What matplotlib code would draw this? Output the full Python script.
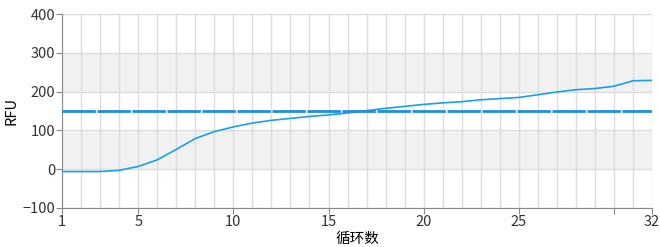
import numpy as np
import matplotlib.pyplot as plt

plt.rcParams['font.family'] = ['Noto Sans CJK SC', 'DejaVu Sans']

cycles = list(range(1, 33))
rfu = [-6, -6, -6, -3, 7, 24, 51, 79, 97, 109, 119, 126, 131, 136, 140, 145,
       151, 157, 162, 167, 171, 174, 179, 182, 185, 192, 199, 205, 208, 214, 228, 229]
threshold = 150
xticks = [1, 5, 10, 15, 20, 25, 30, 32]
xticklabels = ['1', '5', '10', '15', '20', '25', '', '32']
yticks = [-100, 0, 100, 200, 300, 400]

fig = plt.figure(figsize=(6.6, 2.47), dpi=100)
ax = fig.add_axes([0.094, 0.158, 0.894, 0.785])

# alternating grey bands
for lo, hi in [(0, 100), (200, 300)]:
    ax.axhspan(lo, hi, color='#f1f1f1', zorder=0, lw=0)
for c in cycles:
    ax.axvline(c, color='#dddddd', lw=1, zorder=1)
for v in yticks:
    ax.axhline(v, color='#dddddd', lw=1, zorder=1)

ax.plot(cycles, rfu, color='#1aa0e8', lw=1.2, zorder=3)
ax.axhline(threshold, color='#1e8ee0', lw=2, ls=(0, (12, 0.6)), zorder=4)

ax.set_xlim(1, 32)
ax.set_ylim(-100, 400)
ax.set_xticks(xticks)
ax.set_xticklabels(xticklabels)
ax.set_yticks(yticks)
ax.tick_params(labelsize=10.5, colors='#333333', length=4, color='#888888', pad=1)
for s in ['top', 'right']:
    ax.spines[s].set_visible(False)
for s in ['left', 'bottom']:
    ax.spines[s].set_color('#888888')
ax.set_ylabel('RFU', fontsize=10.5, labelpad=3)
ax.set_xlabel('循环数', fontsize=10.5, labelpad=2)

fig.savefig('out.png', dpi=100)
